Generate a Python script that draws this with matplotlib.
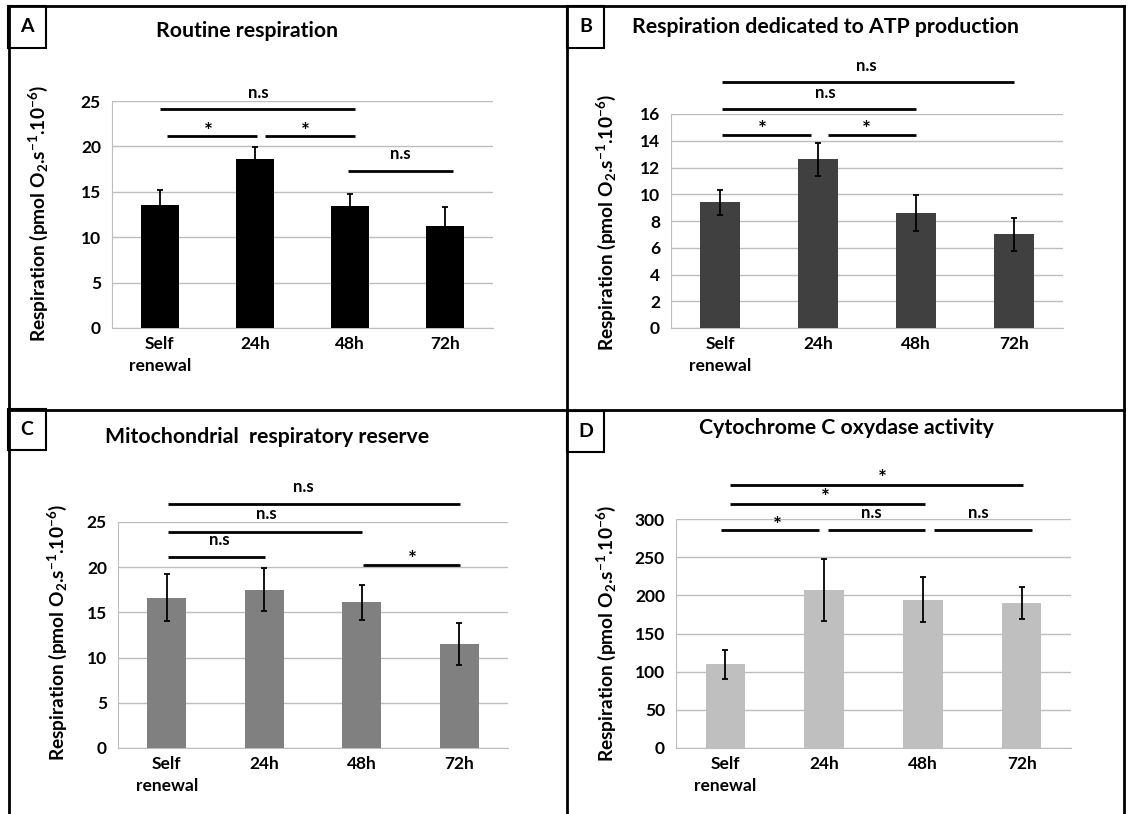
import matplotlib
matplotlib.use("Agg")
import matplotlib.pyplot as plt
from matplotlib.patches import Rectangle
from matplotlib.lines import Line2D

plt.rcParams['font.family'] = ['Lato', 'DejaVu Sans']
plt.rcParams['font.weight'] = 'bold'
plt.rcParams['mathtext.fontset'] = 'custom'
plt.rcParams['mathtext.rm'] = 'Lato:bold'
plt.rcParams['mathtext.it'] = 'Lato:bold'
plt.rcParams['mathtext.bf'] = 'Lato:bold'
plt.rcParams['mathtext.default'] = 'rm'

W, H = 1128, 814

categories = ["Self\nrenewal", "24h", "48h", "72h"]

routine = [13.6, 18.6, 13.4, 11.25]
routine_err = [1.6, 1.3, 1.4, 2.1]

atp = [9.4, 12.6, 8.6, 7.0]
atp_err = [0.95, 1.25, 1.35, 1.25]

reserve = [16.6, 17.5, 16.1, 11.5]
reserve_err = [2.6, 2.4, 1.95, 2.35]

cox = [109.5, 207, 194.5, 190.5]
cox_err = [19.5, 40, 30, 21]

# significance brackets: (x_start, x_end, y, label, label_x, label_y)
sig_a = [(0.0, 2.05, 24.15, "n.s", 1.04, 25.9),
         (0.08, 1.02, 21.2, "*", 0.51, 21.6),
         (1.11, 2.05, 21.2, "*", 1.53, 21.6),
         (1.98, 3.08, 17.3, "n.s", 2.53, 19.2)]
sig_b = [(0.02, 3.0, 18.4, "n.s", 1.49, 19.6),
         (0.02, 2.0, 16.4, "n.s", 1.07, 17.6),
         (0.02, 0.93, 14.4, "*", 0.43, 14.8),
         (1.1, 2.0, 14.4, "*", 1.49, 14.8)]
sig_c = [(0.01, 3.01, 26.95, "n.s", 1.40, 28.9),
         (0.01, 2.0, 23.9, "n.s", 1.02, 25.9),
         (0.01, 1.01, 21.1, "n.s", 0.54, 23.0),
         (2.01, 3.01, 20.2, "*", 2.52, 20.85)]
sig_d = [(0.05, 3.01, 344, "*", 1.59, 353),
         (0.05, 2.02, 320, "*", 1.01, 327),
         (-0.04, 0.95, 286, "*", 0.53, 291),
         (1.04, 2.02, 286, "n.s", 1.48, 308),
         (2.11, 3.10, 286, "n.s", 2.56, 308)]

fig = plt.figure(figsize=(W / 100, H / 100), dpi=100)


def px_axes(x0, y0, x1, y1):
    return fig.add_axes([x0 / W, 1 - y1 / H, (x1 - x0) / W, (y1 - y0) / H])


def fig_line(x0, y0, x1, y1, lw=2):
    fig.add_artist(Line2D([x0 / W, x1 / W], [1 - y0 / H, 1 - y1 / H],
                          transform=fig.transFigure, color='black', lw=lw))


def fig_text(x, y, s, **kw):
    fig.text(x / W, 1 - y / H, s, ha='center', va='center', **kw)


def panel(box, vals, errs, color, ymax, step, sig, title, title_xy,
          letter_box, ylab_xy):
    ax = px_axes(*box)
    x = range(len(vals))
    ax.bar(x, vals, width=0.4, color=color, zorder=3)
    ax.errorbar(x, vals, yerr=errs, fmt='none', ecolor='black',
                elinewidth=1.3, capsize=2.5, capthick=1.3, zorder=4)
    ax.set_xlim(-0.5, 3.5)
    ax.set_ylim(0, ymax)
    ax.set_yticks(range(0, ymax + 1, step))
    ax.set_xticks(list(x))
    ax.set_xticklabels(categories, fontsize=12.5, fontweight='bold',
                       linespacing=1.45, va='top')
    ax.tick_params(axis='both', length=0, labelsize=12.5, pad=8)
    ax.tick_params(axis='x', pad=6)
    for lbl in ax.get_yticklabels():
        lbl.set_fontweight('bold')
    ax.grid(axis='y', color='#bdbdbd', lw=1, zorder=0)
    for s in ['top', 'right']:
        ax.spines[s].set_visible(False)
    ax.spines['left'].set_color('#bdbdbd')
    ax.spines['bottom'].set_color('#bdbdbd')
    for x0, x1, y, lab, lx, ly in sig:
        ax.plot([x0, x1], [y, y], color='black', lw=2, clip_on=False,
                solid_capstyle='butt')
        if lab == "*":
            ax.text(lx, ly, lab, ha='center', va='center', fontsize=15,
                    fontweight='bold', clip_on=False)
        else:
            ax.text(lx, ly, lab, ha='center', va='center', fontsize=12,
                    fontweight='bold', clip_on=False)
    fig_text(title_xy[0], title_xy[1], title, fontsize=15.3, fontweight='bold')
    lx0, ly0, lx1, ly1, letter = letter_box
    fig.add_artist(Rectangle((lx0 / W, 1 - ly1 / H), (lx1 - lx0) / W,
                             (ly1 - ly0) / H, transform=fig.transFigure,
                             fill=False, ec='black', lw=1.5))
    fig_text((lx0 + lx1) / 2, (ly0 + ly1) / 2, letter, fontsize=14,
             fontweight='bold')
    fig_text(ylab_xy[0], ylab_xy[1],
             r"Respiration (pmol O$_2$.s$^{-1}$.10$^{-6}$)",
             fontsize=13.8, fontweight='bold', rotation=90)
    return ax


panel((112, 101, 493, 328), routine, routine_err, 'black', 25, 5, sig_a,
      "Routine respiration", (247, 31), (8, 6, 46, 48, "A"), (38, 214))
panel((671, 114, 1063, 328), atp, atp_err, '#404040', 16, 2, sig_b,
      "Respiration dedicated to ATP production", (825, 27),
      (567, 6, 604, 48, "B"), (606, 223))
panel((118, 522, 508, 748), reserve, reserve_err, '#808080', 25, 5, sig_c,
      "Mitochondrial  respiratory reserve", (267, 437),
      (8, 409, 46, 450, "C"), (57, 633))
panel((676, 519, 1071, 748), cox, cox_err, '#bfbfbf', 300, 50, sig_d,
      "Cytochrome C oxydase activity", (846, 428),
      (567, 411, 604, 452, "D"), (606, 634))

# panel frames
fig_line(9, 6, 1124, 6)
fig_line(9, 6, 9, 814)
fig_line(1124, 6, 1124, 814)
fig_line(567, 6, 567, 814)
fig_line(9, 410, 1124, 410)

fig.savefig("out.png", dpi=100, facecolor='white')
